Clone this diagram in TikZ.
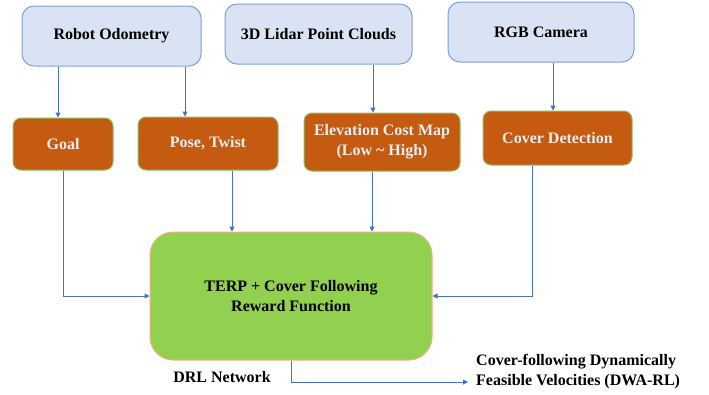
\documentclass[tikz,border=0pt]{standalone}
\usepackage{fontspec}
\setmainfont{Liberation Serif}[BoldFont={Liberation Serif Bold}]
\usetikzlibrary{arrows.meta,positioning}
\definecolor{bfill}{HTML}{DAE3F3}
\definecolor{bdraw}{HTML}{7F9FD8}
\definecolor{ofill}{HTML}{C55A11}
\definecolor{odraw}{HTML}{8DBF60}
\definecolor{otext}{HTML}{EDEDED}
\definecolor{gfill}{HTML}{92D050}
\definecolor{gdraw}{HTML}{F4B183}
\definecolor{arr}{HTML}{4472C4}
\tikzset{
  srcbox/.style={draw=bdraw, fill=bfill, line width=1pt, rounded corners=12pt,
    font=\fontsize{16}{20}\selectfont\bfseries, text=black, align=center, inner sep=0pt},
  procbox/.style={draw=odraw, fill=ofill, line width=1pt, rounded corners=8pt,
    font=\fontsize{16}{20}\selectfont\bfseries, text=otext, align=center, inner sep=0pt},
  mainbox/.style={draw=gdraw, fill=gfill, line width=1pt, rounded corners=23pt,
    font=\fontsize{16}{20}\selectfont\bfseries, text=black, align=center, inner sep=0pt},
  lbl/.style={font=\fontsize{16}{20}\selectfont\bfseries, text=black, align=left, inner sep=0pt},
  conn/.style={draw=arr, line width=1pt, -{Triangle[width=5pt,length=5pt]}}
}
\begin{document}
\begin{tikzpicture}[x=1pt,y=-1pt]
\useasboundingbox (0,0) rectangle (709,394);
\node[srcbox, minimum width=179pt, minimum height=60pt] (odo) at (111.5,36) {Robot Odometry};
\node[srcbox, minimum width=187pt, minimum height=60pt] (lidar) at (318.5,34) {3D Lidar Point Clouds};
\node[srcbox, minimum width=186pt, minimum height=60pt] (rgb) at (541,32) {RGB Camera};
\node[procbox, minimum width=100pt, minimum height=52pt] (goal) at (63,144) {Goal};
\node[procbox, minimum width=140pt, minimum height=53pt] (pose) at (208,143.5) {Pose, Twist};
\node[procbox, minimum width=156pt, minimum height=58pt] (elev) at (382,142) {Elevation Cost Map\\(Low \textasciitilde{} High)};
\node[procbox, minimum width=149pt, minimum height=54pt] (cover) at (557.5,138) {Cover Detection};
\node[mainbox, minimum width=282pt, minimum height=128pt] (terp) at (291,296) {TERP + Cover Following\\Reward Function};
\node[lbl] (drl) at (222,377) {DRL Network};
\node[lbl, anchor=west] (out) at (476,372) {Cover-following Dynamically\\Feasible Velocities (DWA-RL)};
\coordinate (outend) at (468,382);
\draw[conn] (odo.south -| 58,0) -- (goal.north -| 58,0);
\draw[conn] (odo.south -| 185,0) -- (pose.north -| 185,0);
\draw[conn] (lidar.south -| 373,0) -- (elev.north -| 373,0);
\draw[conn] (rgb.south -| 553,0) -- (cover.north -| 553,0);
\draw[conn] (pose.south -| 232,0) -- (terp.north -| 232,0);
\draw[conn] (elev.south -| 372,0) -- (terp.north -| 372,0);
\draw[conn] (goal.south) -- (63,296) -- (terp.west |- 0,296);
\draw[conn] (cover.south -| 532,0) -- (532,296) -- (terp.east |- 0,296);
\draw[conn] (terp.south) -- (291,382) -- (outend);
\end{tikzpicture}
\end{document}
